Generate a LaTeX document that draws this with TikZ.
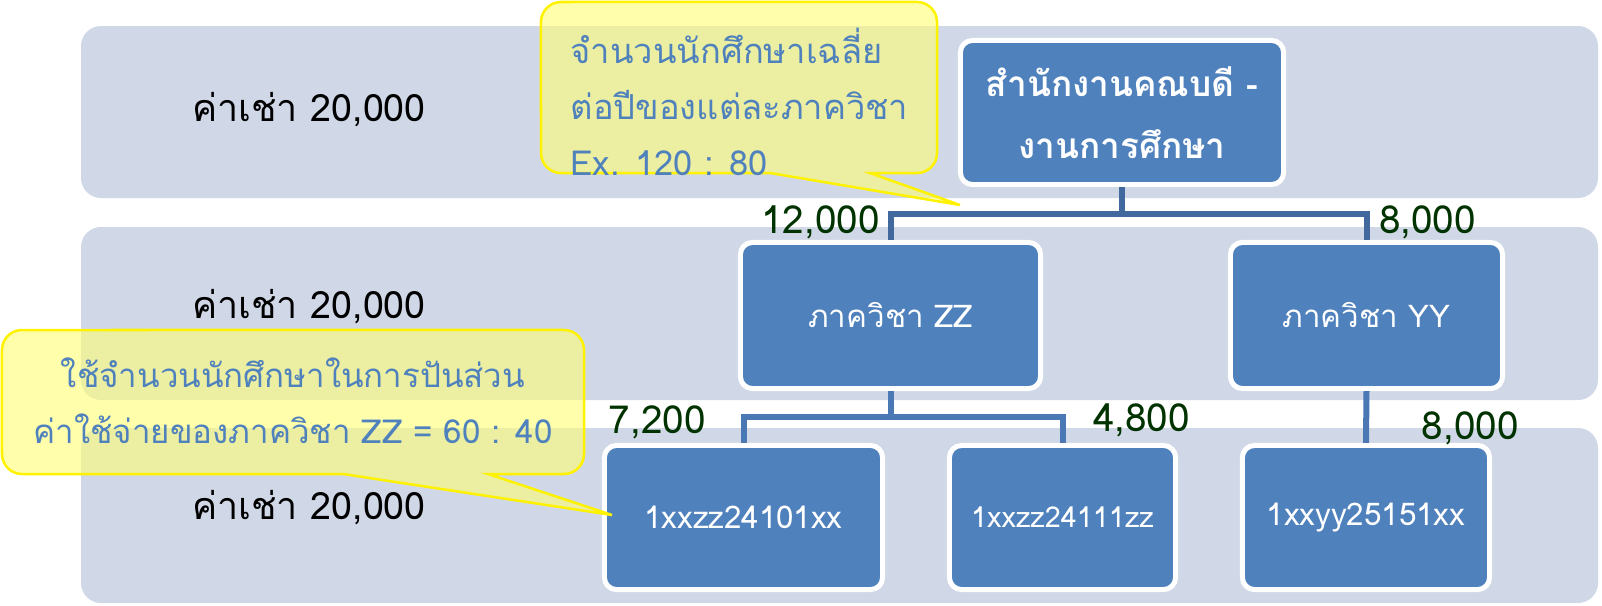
\documentclass[tikz,border=0pt]{standalone}
\usepackage{fontspec}
\setmainfont[Script=Thai]{Loma}
\usetikzlibrary{positioning}

\definecolor{bandgray}{HTML}{D0D7E6}
\definecolor{boxblue}{HTML}{4F81BD}
\definecolor{linkdark}{HTML}{41699E}
\definecolor{linklight}{HTML}{4A78B4}
\definecolor{numgreen}{HTML}{003300}
\definecolor{notefill}{HTML}{FFFF73}

\tikzset{
  band/.style={fill=bandgray, rounded corners=0.2cm},
  unit/.style={rectangle, rounded corners=0.12cm, fill=boxblue, draw=white,
    line width=0.05cm, text=white, align=center, inner sep=0pt,
    font=\fontsize{8.9}{11}\selectfont},
  link/.style={draw=linkdark, line width=0.06cm},
  sublink/.style={draw=linklight, line width=0.06cm},
  num/.style={text=numgreen, inner sep=0pt, font=\fontsize{11}{13}\selectfont},
  rent/.style={text=black, font=\fontsize{10.7}{13}\selectfont},
  note/.style={draw=yellow, line width=0.025cm, fill=notefill, fill opacity=0.6},
  notetext/.style={text=boxblue, inner sep=0pt}
}

\begin{document}
\begin{tikzpicture}[x=0.01cm, y=-0.01cm]
\useasboundingbox (0,0) rectangle (1602,606);
% Bands
\fill[band] (81,26) rectangle (1598,198);
\fill[band] (81,227) rectangle (1598,400);
\fill[band] (81,428) rectangle (1598,603);
\node[rent] (rent1) at (309,110) {ค่าเช่า 20,000};
\node[rent] (rent2) at (309,307) {ค่าเช่า 20,000};
\node[rent] (rent3) at (309,508) {ค่าเช่า 20,000};
% Units
\node[unit, minimum width=3.23cm, minimum height=1.44cm, font=\fontsize{10}{17.6}\selectfont\bfseries]
  (dean) at (1122,112.5) {สำนักงานคณบดี -\\งานการศึกษา};
\node[unit, minimum width=3.00cm, minimum height=1.46cm] (zz) at (890.5,315.5) {ภาควิชา ZZ};
\node[unit, minimum width=2.72cm, minimum height=1.46cm] (yy) at (1366.5,315.5) {ภาควิชา YY};
\node[unit, minimum width=2.78cm, minimum height=1.44cm] (zz1) at (743.5,517.5) {1xxzz24101xx};
\node[unit, minimum width=2.26cm, minimum height=1.44cm, font=\fontsize{8.2}{10}\selectfont]
  (zz2) at (1062.5,517.5) {1xxzz24111zz};
\node[unit, minimum width=2.47cm, minimum height=1.44cm] (yy1) at (1366,517.5) {1xxyy25151xx};
% Links
\coordinate (bus1) at (0,214);
\coordinate (bus2) at (0,417);
\draw[link] (dean.south) -- (dean.south |- bus1) -| (zz.north);
\draw[link] (dean.south |- bus1) -| (yy.north);
\draw[sublink] (zz.south) -- (zz.south |- bus2) -| (zz1.north);
\draw[sublink] (zz.south |- bus2) -| (zz2.north);
\draw[sublink] (yy.south) -- (yy1.north);
% Shares
\node[num, above left=0cm and 0.1cm of zz.north] (s1) {12,000};
\node[num, above right=0cm and 0.12cm of yy.north] (s2) {8,000};
\node[num, above left=0.03cm and 0.37cm of zz1.north] (s3) {7,200};
\node[num, above right=0.05cm and 0.3cm of zz2.north] (s4) {4,800};
\node[num, above right=-0.03cm and 0.55cm of yy1.north] (s5) {8,000};
% Notes
\draw[note] (770,173) -- (960,205) -- (870,173) -- (917,173)
  arc[start angle=270, end angle=360, radius=0.2cm] -- (937,22)
  arc[start angle=0, end angle=90, radius=0.2cm] -- (561,2)
  arc[start angle=90, end angle=180, radius=0.2cm] -- (541,153)
  arc[start angle=180, end angle=270, radius=0.2cm] -- cycle;
\node[notetext, anchor=west, align=left, font=\fontsize{9.8}{16}\selectfont] (note1) at (570,102)
  {จำนวนนักศึกษาเฉลี่ย\\ต่อปีของแต่ละภาควิชา\\Ex. 120 : 80};
\draw[note] (343,474) -- (612,515) -- (488,474) -- (564,474)
  arc[start angle=270, end angle=360, radius=0.2cm] -- (584,350)
  arc[start angle=0, end angle=90, radius=0.2cm] -- (22,330)
  arc[start angle=90, end angle=180, radius=0.2cm] -- (2,454)
  arc[start angle=180, end angle=270, radius=0.2cm] -- cycle;
\node[notetext, align=center, font=\fontsize{9.4}{16}\selectfont] (note2) at (293,401)
  {ใช้จำนวนนักศึกษาในการปันส่วน\\ค่าใช้จ่ายของภาควิชา ZZ = 60 : 40};
\end{tikzpicture}
\end{document}
